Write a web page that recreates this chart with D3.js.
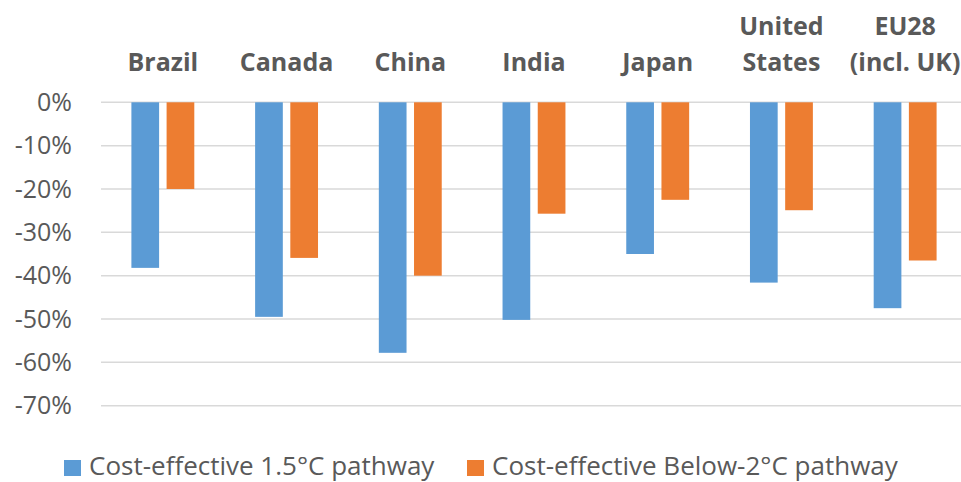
<!DOCTYPE html>
<html>
<head>
<meta charset="utf-8">
<script src="https://d3js.org/d3.v7.min.js"></script>
<style>
  body { margin: 0; background: #fff; }
  svg { display: block; font-family: "Open Sans", sans-serif; }
  .grid line { stroke: #d9d9d9; stroke-width: 1.5px; }
  .ylab { fill: #595959; font-size: 25px; }
  .cat { fill: #595959; font-size: 25px; font-weight: bold; }
  .leg { fill: #595959; font-size: 26px; }
</style>
</head>
<body>
<div id="container"></div>
<script>
// categories (multi-line labels split on "|")
const categories = ["Brazil", "Canada", "China", "India", "Japan", "United|States", "EU28|(incl. UK)"];
const seriesNames = ["Cost-effective 1.5°C pathway", "Cost-effective Below-2°C pathway"];
const pathway15 = [-0.382, -0.495, -0.578, -0.502, -0.350, -0.416, -0.475];
const below2 = [-0.200, -0.359, -0.400, -0.257, -0.225, -0.249, -0.365];
const yTicks = [0, -0.1, -0.2, -0.3, -0.4, -0.5, -0.6, -0.7];
const colors = ["#5b9bd5", "#ed7d31"];

const W = 961, H = 482;
const svg = d3.select("#container").append("svg")
  .attr("width", W).attr("height", H);

// scales
const x0 = d3.scaleBand().domain(categories).range([101, 967]).padding(0);
const x1 = d3.scaleBand().domain([0, 1]).range([30.4, 93.3]).paddingInner(0.213);
const y = d3.scaleLinear().domain([-0.7, 0]).range([405.7, 102.3]);

// gridlines
svg.append("g").attr("class", "grid")
  .selectAll("line").data(yTicks).join("line")
  .attr("x1", 101).attr("x2", W)
  .attr("y1", d => y(d)).attr("y2", d => y(d));

// y labels
svg.append("g").selectAll("text").data(yTicks).join("text")
  .attr("class", "ylab")
  .attr("x", 72).attr("y", d => y(d))
  .attr("dy", "0.35em")
  .attr("text-anchor", "end")
  .text(d => d3.format(".0%")(d).replace("−", "-"));

// bars
const data = categories.map((c, i) => ({ cat: c, vals: [pathway15[i], below2[i]] }));
const groups = svg.append("g").selectAll("g").data(data).join("g")
  .attr("transform", d => "translate(" + x0(d.cat) + ",0)");
groups.selectAll("rect").data(d => d.vals.map((v, k) => ({ k: k, v: v }))).join("rect")
  .attr("x", d => x1(d.k))
  .attr("width", x1.bandwidth())
  .attr("y", y(0))
  .attr("height", d => y(d.v) - y(0))
  .attr("fill", d => colors[d.k]);

// category labels at top
const cats = svg.append("g").selectAll("text").data(categories).join("text")
  .attr("class", "cat")
  .attr("text-anchor", "middle")
  .attr("x", d => x0(d) + x0.bandwidth() / 2)
  .attr("y", 71);
cats.each(function(d) {
  const lines = d.split("|");
  const t = d3.select(this);
  lines.forEach((ln, i) => {
    t.append("tspan")
      .attr("x", t.attr("x"))
      .attr("y", 71 - (lines.length - 1 - i) * 36)
      .text(ln);
  });
});

// legend
const legX = [64, 467];
const leg = svg.append("g").selectAll("g").data(seriesNames).join("g")
  .attr("transform", (d, i) => "translate(" + legX[i] + ",0)");
leg.append("rect")
  .attr("x", 0).attr("y", 460).attr("width", 17).attr("height", 16)
  .attr("fill", (d, i) => colors[i]);
leg.append("text")
  .attr("class", "leg")
  .attr("x", 25).attr("y", 475)
  .text(d => d);
</script>
</body>
</html>
